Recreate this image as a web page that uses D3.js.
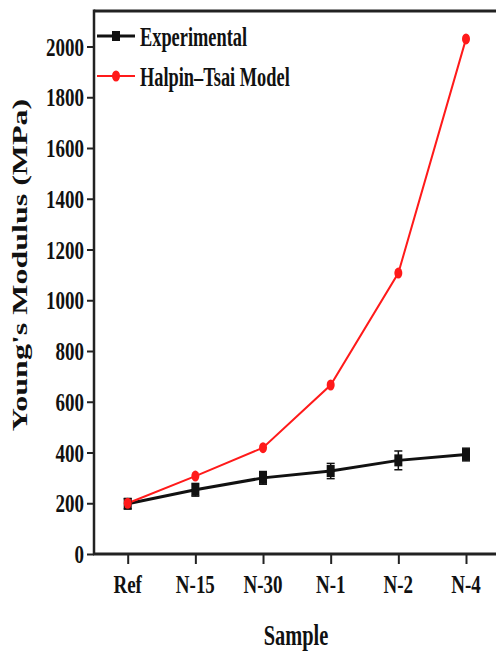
<!DOCTYPE html>
<html>
<head>
<meta charset="utf-8">
<script src="https://cdn.jsdelivr.net/npm/d3@7"></script>
<style>
  html, body { margin: 0; padding: 0; background: #fff; }
  svg { display: block; }
  text { font-family: "Liberation Serif", "Times New Roman", serif; font-weight: bold; fill: #111; }
</style>
</head>
<body>
<svg id="chart" width="496" height="657"></svg>
<script>
const categories = ["Ref", "N-15", "N-30", "N-1", "N-2", "N-4"];
const experimental = [198, 253, 300, 327, 369, 392];
const experimentalErr = [20, 25, 25, 30, 37, 25];
const halpinTsai = [200, 307, 419, 666, 1107, 2030];
const yTicks = [0, 200, 400, 600, 800, 1000, 1200, 1400, 1600, 1800, 2000];
const seriesNames = ["Experimental", "Halpin\u2013Tsai Model"];
const seriesColors = ["#111111", "#ff1a1a"];

const svg = d3.select("#chart");
const mLeft = 94, mTop = 11, mRight = 500, mBottom = 554;

const x = d3.scalePoint().domain(categories).range([127.7, 466]);
const y = d3.scaleLinear().domain([0, 2000]).range([mBottom, 46.5]);

// frame: top border and left/bottom axes
svg.append("line").attr("x1", mLeft).attr("x2", mRight).attr("y1", mTop).attr("y2", mTop)
  .attr("stroke", "#222").attr("stroke-width", 3);

// y axis
const yAxis = svg.append("g").attr("transform", `translate(${mLeft},0)`)
  .call(d3.axisLeft(y).tickValues(yTicks).tickSize(7).tickFormat(""));
yAxis.select(".domain").remove();
yAxis.selectAll(".tick line").attr("stroke", "#222").attr("stroke-width", 2);
svg.append("line").attr("x1", mLeft).attr("x2", mLeft).attr("y1", mTop - 1.5).attr("y2", mBottom + 1)
  .attr("stroke", "#222").attr("stroke-width", 2.5);
svg.selectAll(".ytl").data(yTicks).enter().append("text")
  .attr("class", "ytl")
  .attr("text-anchor", "end")
  .attr("font-size", 26)
  .attr("transform", d => `translate(84,${y(d) + 9}) scale(0.73,1)`)
  .text(d => d);

// x axis
const xAxis = svg.append("g").attr("transform", `translate(0,${mBottom})`)
  .call(d3.axisBottom(x).tickSize(10).tickFormat(""));
xAxis.select(".domain").remove();
xAxis.selectAll(".tick line").attr("stroke", "#222").attr("stroke-width", 2);
svg.append("line").attr("x1", mLeft - 1).attr("x2", mRight).attr("y1", mBottom).attr("y2", mBottom)
  .attr("stroke", "#222").attr("stroke-width", 3);
svg.selectAll(".xtl").data(categories).enter().append("text")
  .attr("class", "xtl")
  .attr("text-anchor", "middle")
  .attr("font-size", 26)
  .attr("transform", d => `translate(${x(d)},593) scale(0.73,1)`)
  .text(d => d);

// axis titles
svg.append("text").attr("text-anchor", "middle").attr("font-size", 30)
  .attr("transform", "translate(296,645) scale(0.68,1)").text("Sample");
svg.append("text").attr("text-anchor", "middle").attr("font-size", 32)
  .attr("transform", "translate(27,265) rotate(-90) scale(1,0.66)").text("Young's Modulus (MPa)");

// series lines
const line = d3.line().x((d, i) => x(categories[i])).y(d => y(d));
svg.append("path").datum(experimental).attr("d", line)
  .attr("fill", "none").attr("stroke", seriesColors[0]).attr("stroke-width", 3);

// error bars
const eb = svg.append("g");
experimental.forEach((v, i) => {
  const cx = x(categories[i]);
  const y1 = y(v + experimentalErr[i]), y2 = y(v - experimentalErr[i]);
  eb.append("line").attr("x1", cx).attr("x2", cx).attr("y1", y1).attr("y2", y2)
    .attr("stroke", "#111").attr("stroke-width", 1.5);
  [y1, y2].forEach(yy => eb.append("line").attr("x1", cx - 4).attr("x2", cx + 4)
    .attr("y1", yy).attr("y2", yy).attr("stroke", "#111").attr("stroke-width", 1.5));
});

svg.append("path").datum(halpinTsai).attr("d", line)
  .attr("fill", "none").attr("stroke", seriesColors[1]).attr("stroke-width", 2);

// markers
svg.selectAll(".exm").data(experimental).enter().append("rect")
  .attr("x", (d, i) => x(categories[i]) - 4).attr("y", d => y(d) - 6)
  .attr("width", 8).attr("height", 12).attr("fill", seriesColors[0]);
svg.selectAll(".htm").data(halpinTsai).enter().append("ellipse")
  .attr("cx", (d, i) => x(categories[i])).attr("cy", d => y(d))
  .attr("rx", 4).attr("ry", 5.5).attr("fill", seriesColors[1]);

// legend
const legY = [36, 76];
seriesNames.forEach((name, i) => {
  svg.append("line").attr("x1", 97).attr("x2", 135).attr("y1", legY[i]).attr("y2", legY[i])
    .attr("stroke", seriesColors[i]).attr("stroke-width", i === 0 ? 3 : 2);
  if (i === 0) {
    svg.append("rect").attr("x", 112).attr("y", legY[i] - 5).attr("width", 8).attr("height", 10)
      .attr("fill", seriesColors[i]);
  } else {
    svg.append("ellipse").attr("cx", 116).attr("cy", legY[i]).attr("rx", 4).attr("ry", 5.5)
      .attr("fill", seriesColors[i]);
  }
  svg.append("text").attr("font-size", 27)
    .attr("transform", `translate(140,${legY[i] + 10}) scale(0.68,1)`).text(name);
});
</script>
</body>
</html>
